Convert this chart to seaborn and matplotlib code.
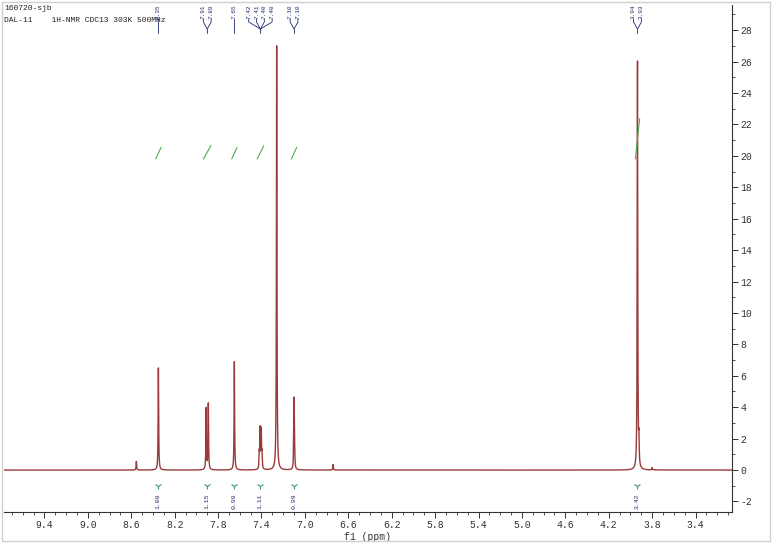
import numpy as np
import pandas as pd
import matplotlib
matplotlib.use("Agg")
import matplotlib.pyplot as plt
import matplotlib.transforms as mtransforms
from matplotlib.patches import Rectangle
import seaborn as sns

# ---------------- data ----------------
peak_ppm    = [8.553, 8.350, 7.910, 7.890, 7.650, 7.420, 7.412, 7.402, 7.395, 7.260, 7.100, 7.095, 6.740, 3.935, 3.922, 3.800]
peak_height = [0.55,  6.5,   3.9,   4.2,   6.9,   1.0,   2.5,   2.4,   0.9,   27.0,  4.4,   1.0,   0.35,  26.1,  1.5,   0.15]
peak_hwhm   = 0.0028

label_groups = [["8.35"], ["7.91", "7.89"], ["7.65"],
                ["7.42", "7.41", "7.40", "7.40"], ["7.10", "7.10"], ["3.94", "3.93"]]
label_center = [8.350, 7.900, 7.650, 7.410, 7.100, 3.935]

integral_start = [8.375, 7.935, 7.675, 7.440, 7.125, 3.955]
integral_end   = [8.325, 7.865, 7.625, 7.380, 7.075, 3.915]
integral_value = [1.00, 1.15, 0.98, 1.11, 0.99, 3.42]
integral_text  = ["1.00", "1.15", "0.98", "1.11", "0.99", "3.42"]

x_ticks = [9.4, 9.0, 8.6, 8.2, 7.8, 7.4, 7.0, 6.6, 6.2, 5.8, 5.4, 5.0, 4.6, 4.2, 3.8, 3.4]
y_ticks = list(range(-2, 29, 2))

header_1 = "160720-sjb"
header_2 = "DAL-11    1H-NMR CDC13 303K 500MHz"
x_label = "f1 (ppm)"

# ---------------- spectrum from the peak list ----------------
ppm = np.arange(3.00, 9.82, 0.0004)
intensity = np.zeros_like(ppm)
for p, h in zip(peak_ppm, peak_height):
    intensity += h / (1.0 + ((ppm - p) / peak_hwhm) ** 2)
df = pd.DataFrame({"ppm": ppm, "intensity": intensity})

sns.set_theme(style="white")
plt.rcParams["font.family"] = ["Liberation Mono", "DejaVu Sans Mono"]

fig = plt.figure(figsize=(7.77, 5.49), dpi=100)
ax = fig.add_axes([4 / 777, 1 - 512 / 549, 728 / 777, 507 / 549])
ax.set_facecolor("white")

sns.lineplot(data=df, x="ppm", y="intensity", ax=ax, color="#9a3a3a",
             linewidth=1.0, estimator=None, sort=False)

ax.set_xlim(9.773, 3.064)
ax.set_ylim(-2.67, 29.6)

for s in ["top", "left"]:
    ax.spines[s].set_visible(False)
for s in ["bottom", "right"]:
    ax.spines[s].set_visible(True)
    ax.spines[s].set_color("#333333")
    ax.spines[s].set_linewidth(0.8)

ax.set_xticks(x_ticks)
ax.set_xticklabels([f"{t:.1f}" for t in x_ticks], fontsize=7, color="#333333")
ax.set_xticks(np.arange(3.1, 9.78, 0.1), minor=True)
ax.yaxis.tick_right()
ax.set_yticks(y_ticks)
ax.set_yticklabels([str(t) for t in y_ticks], fontsize=7, color="#333333")
ax.set_yticks(range(-2, 30), minor=True)
ax.tick_params(axis="both", which="major", direction="out", length=4, width=0.7,
               color="#333333", pad=2, bottom=True, right=True, left=False)
ax.tick_params(axis="both", which="minor", direction="out", length=2, width=0.6,
               color="#333333", bottom=True, right=True, left=False)
ax.set_xlabel(x_label, fontsize=7, color="#333333", labelpad=1)
ax.set_ylabel("")

# ---------------- peak labels at the top ----------------
trans = mtransforms.blended_transform_factory(ax.transData, ax.transAxes)
def fy(p):  # pixel row -> axes fraction
    return (512 - p) / 507
spacing = 0.072
lab_col = "#1f2a6e"
for labels, c in zip(label_groups, label_center):
    n = len(labels)
    xs = [c + (n - 1) / 2 * spacing - i * spacing for i in range(n)]
    for lx, t in zip(xs, labels):
        ax.text(lx, fy(19), t, rotation=90, fontsize=4.4, color=lab_col,
                ha="center", va="bottom", transform=trans, clip_on=False)
        ax.plot([lx, lx, c], [fy(19), fy(22), fy(29)], color=lab_col,
                linewidth=0.6, transform=trans, clip_on=False)
    ax.plot([c, c], [fy(29), fy(33)], color=lab_col, linewidth=0.6,
            transform=trans, clip_on=False)

# ---------------- integrals ----------------
for xs_, xe_, v, t in zip(integral_start, integral_end, integral_value, integral_text):
    base = 19.8
    ax.plot([xs_, xe_], [base, base + 0.75 * v], color="#4caf50", linewidth=0.8)
    xm = (xs_ + xe_) / 2
    ax.plot([xm], [-1.0], marker="1", markersize=5, color="#3a9a6a",
            markeredgewidth=0.8)
    ax.text(xm, -1.5, t, rotation=90, fontsize=4.6, color=lab_col,
            ha="center", va="top")

# ---------------- header ----------------
fig.text(4 / 777, 1 - 9 / 549, header_1, fontsize=5.8, color="#222222",
         ha="left", va="center")
fig.text(4 / 777, 1 - 21 / 549, header_2, fontsize=5.8, color="#222222",
         ha="left", va="center")

fig.patches.append(Rectangle((2 / 777, 1 - 541 / 549), 768 / 777, 539 / 549,
                             transform=fig.transFigure, fill=False,
                             edgecolor="#d0d0d0", linewidth=1.0))

fig.savefig("out.png", dpi=100, facecolor="white")
